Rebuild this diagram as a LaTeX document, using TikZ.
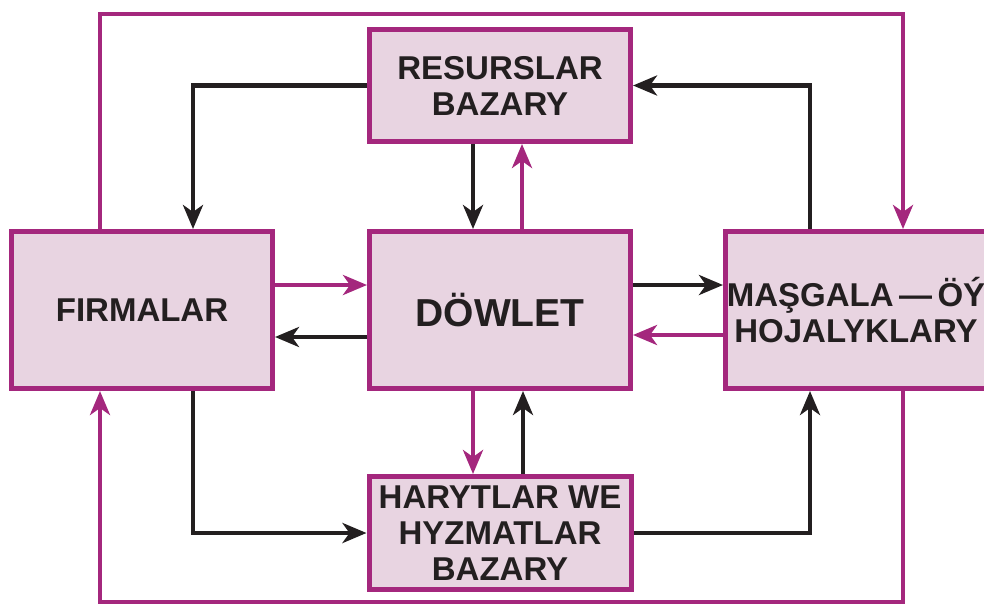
\documentclass[tikz,border=0pt]{standalone}
\usepackage{fontspec}
\setmainfont{Liberation Sans}
\usetikzlibrary{arrows.meta}
\definecolor{mg}{HTML}{A4277D}
\definecolor{bfill}{HTML}{E8D4E1}
\definecolor{blk}{HTML}{231F20}
\tikzset{
  box/.style={draw=mg, fill=bfill, line width=5pt, align=center, inner sep=0pt,
    font=\bfseries\fontsize{33}{36}\selectfont, text=blk},
  tip/.style={-{Stealth[length=24pt,width=20pt,inset=7pt]}},
  bk/.style={draw=blk, line width=4.8pt, tip},
  mgl/.style={draw=mg, line width=4.5pt, tip}
}
\begin{document}
\begin{tikzpicture}[x=1pt,y=-1pt]
\useasboundingbox (0,0) rectangle (984,605);
\node[box, minimum width=261pt, minimum height=112pt] (res) at (500,85.5) {RESURSLAR\\BAZARY};
\node[box, minimum width=261pt, minimum height=157pt] (firm) at (142,310) {FIRMALAR};
\node[box, minimum width=261pt, minimum height=157pt, font=\bfseries\fontsize{39}{42}\selectfont] (dow) at (500,310) {DÖWLET};
\node[box, minimum width=261pt, minimum height=157pt] (mas) at (856,310) {MAŞGALA\,—\,ÖÝ\\HOJALYKLARY};
\node[box, minimum width=262pt, minimum height=113pt] (har) at (500,533) {HARYTLAR WE\\HYZMATLAR\\BAZARY};
\coordinate (top) at (500,14);
\coordinate (bot) at (500,602);
% inner connectors
\draw[bk] (res.west) -| ([xshift=51pt]firm.north);
\draw[bk] ([xshift=-46pt]mas.north) |- (res.east);
\draw[bk] ([xshift=-27pt]res.south) -- ([xshift=-27pt]dow.north);
\draw[mgl] ([xshift=22pt]dow.north) -- ([xshift=22pt]res.south);
\draw[mgl] ([yshift=25pt]firm.east) -- ([yshift=25pt]dow.west);
\draw[bk] ([yshift=-27pt]dow.west) -- ([yshift=-27pt]firm.east);
\draw[bk] ([yshift=25pt]dow.east) -- ([yshift=25pt]mas.west);
\draw[mgl] ([yshift=-25pt]mas.west) -- ([yshift=-25pt]dow.east);
\draw[mgl] ([xshift=-27pt]dow.south) -- ([xshift=-27pt]har.north);
\draw[bk] ([xshift=23pt]har.north) -- ([xshift=23pt]dow.south);
\draw[bk] ([xshift=51pt]firm.south) |- (har.west);
\draw[bk] (har.east) -| ([xshift=-46pt]mas.south);
% outer magenta loop
\draw[mgl] ([xshift=-42pt]firm.north) |- (top) -| ([xshift=47pt]mas.north);
\draw[mgl] ([xshift=47pt]mas.south) |- (bot) -| ([xshift=-42pt]firm.south);
\end{tikzpicture}
\end{document}
